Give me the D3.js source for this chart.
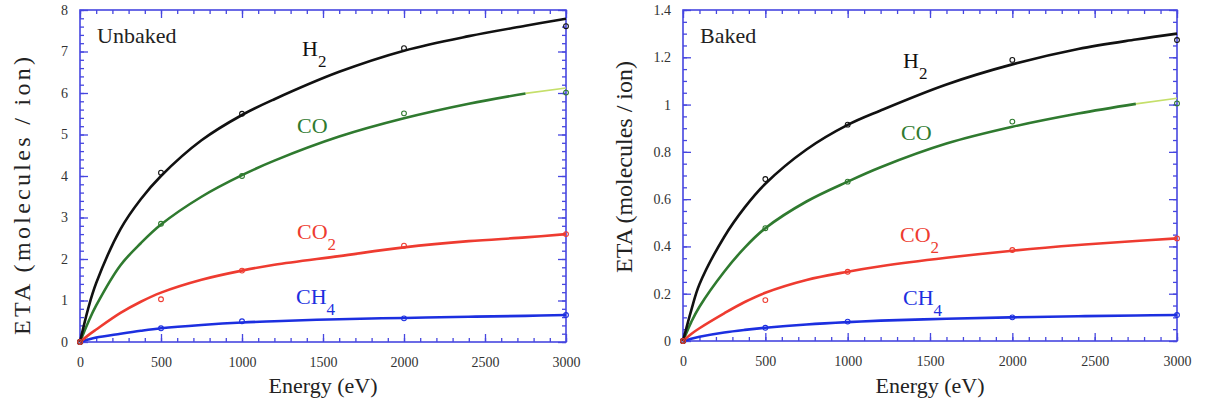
<!DOCTYPE html>
<html>
<head>
<meta charset="utf-8">
<script src="https://cdn.jsdelivr.net/npm/d3@7"></script>
<style>
  body { margin: 0; background: #fff; }
  text { font-family: "Liberation Serif", "Times New Roman", serif; }
</style>
</head>
<body>
<div id="chart"></div>
<script>
var energies = [0, 50, 100, 250, 375, 500, 750, 1000, 1200, 1600, 2000, 2400, 2750, 3000];
// energies of the measured points
var pointEnergies = [0, 500, 1000, 2000, 3000];

var xTicks = [0, 500, 1000, 1500, 2000, 2500, 3000];
var unbakedYTicks = [0, 1, 2, 3, 4, 5, 6, 7, 8];
var bakedYTicks = [0, 0.2, 0.4, 0.6, 0.8, 1, 1.2, 1.4];

// Unbaked - curves
var unbakedH2  = [0, 0.8, 1.42, 2.72, 3.44, 4.0, 4.86, 5.47, 5.85, 6.51, 7.02, 7.37, 7.62, 7.79];
var unbakedCO  = [0, 0.47, 0.88, 1.85, 2.38, 2.83, 3.5, 4.02, 4.37, 4.95, 5.39, 5.74, 5.99, 6.12];
var unbakedCO2 = [0, 0.16, 0.3, 0.7, 0.97, 1.19, 1.5, 1.72, 1.86, 2.07, 2.28, 2.43, 2.52, 2.6];
var unbakedCH4 = [0, 0.06, 0.11, 0.2, 0.27, 0.33, 0.41, 0.47, 0.5, 0.55, 0.58, 0.61, 0.63, 0.65];
// Unbaked - measured points
var unbakedH2Pts  = [0, 4.08, 5.5, 7.08, 7.61];
var unbakedCOPts  = [0, 2.85, 4.0, 5.51, 6.01];
var unbakedCO2Pts = [0, 1.03, 1.72, 2.32, 2.6];
var unbakedCH4Pts = [0, 0.33, 0.5, 0.57, 0.65];

// Baked - curves
var bakedH2  = [0, 0.13, 0.24, 0.44, 0.565, 0.665, 0.81, 0.914, 0.975, 1.085, 1.17, 1.235, 1.275, 1.3];
var bakedCO  = [0, 0.08, 0.145, 0.293, 0.395, 0.477, 0.59, 0.674, 0.735, 0.835, 0.906, 0.962, 1.003, 1.027];
var bakedCO2 = [0, 0.03, 0.054, 0.117, 0.165, 0.204, 0.258, 0.293, 0.316, 0.352, 0.382, 0.406, 0.423, 0.434];
var bakedCH4 = [0, 0.01, 0.018, 0.036, 0.047, 0.056, 0.07, 0.08, 0.086, 0.094, 0.1, 0.105, 0.108, 0.11];
// Baked - measured points
var bakedH2Pts  = [0, 0.685, 0.915, 1.189, 1.273];
var bakedCOPts  = [0, 0.477, 0.674, 0.928, 1.005];
var bakedCO2Pts = [0, 0.173, 0.293, 0.385, 0.434];
var bakedCH4Pts = [0, 0.056, 0.082, 0.1, 0.11];

var axisColour = '#4646e0';
var colours = {H2: '#111111', CO: '#2f7a2f', CO2: '#ee3b30', CH4: '#1c2fe0'};
var extensionColour = '#c5df6a';

var svg = d3.select('#chart').append('svg')
    .attr('width', 1206)
    .attr('height', 407)
    .style('display', 'block');

svg.append('rect').attr('width', 1206).attr('height', 407).attr('fill', '#fff');

function zip(xs, ys) {
  return xs.map(function(e, i) { return {e: e, v: ys[i]}; });
}

function drawPanel(p) {
  var g = svg.append('g');

  var x = d3.scaleLinear().domain([0, 3000]).range([p.left, p.right]),
      y = d3.scaleLinear().domain([0, p.yMax]).range([p.bottom, p.top]);

  function style(sel) {
    sel.attr('font-family', '"Liberation Serif", serif');
    sel.select('.domain').remove();
    sel.selectAll('.tick line').attr('stroke', axisColour).attr('stroke-width', 1.3);
    sel.selectAll('.tick text')
        .attr('fill', '#333')
        .style('font-size', '14px');
  }

  var xMinor = d3.range(0, 3001, 100),
      yMinor = d3.range(0, p.yMax + 1e-9, p.yMinorStep);

  // bottom
  g.append('g').attr('transform', 'translate(0,' + p.bottom + ')')
      .call(d3.axisBottom(x).tickValues(xMinor).tickSize(-4).tickFormat(''))
      .call(style);
  g.append('g').attr('transform', 'translate(0,' + p.bottom + ')')
      .call(d3.axisBottom(x).tickValues(xTicks).tickSize(-8).tickPadding(15).tickFormat(d3.format('d')))
      .call(style);
  // top
  g.append('g').attr('transform', 'translate(0,' + p.top + ')')
      .call(d3.axisTop(x).tickValues(xMinor).tickSize(-4).tickFormat(''))
      .call(style);
  g.append('g').attr('transform', 'translate(0,' + p.top + ')')
      .call(d3.axisTop(x).tickValues(xTicks).tickSize(-8).tickFormat(''))
      .call(style);
  // left
  g.append('g').attr('transform', 'translate(' + p.left + ',0)')
      .call(d3.axisLeft(y).tickValues(yMinor).tickSize(-4).tickFormat(''))
      .call(style);
  g.append('g').attr('transform', 'translate(' + p.left + ',0)')
      .call(d3.axisLeft(y).tickValues(p.yTicks).tickSize(-8).tickPadding(12).tickFormat(d3.format('~g')))
      .call(style);
  // right
  g.append('g').attr('transform', 'translate(' + p.right + ',0)')
      .call(d3.axisRight(y).tickValues(yMinor).tickSize(-4).tickFormat(''))
      .call(style);
  g.append('g').attr('transform', 'translate(' + p.right + ',0)')
      .call(d3.axisRight(y).tickValues(p.yTicks).tickSize(-8).tickFormat(''))
      .call(style);

  // frame
  g.append('rect')
      .attr('x', p.left).attr('y', p.top)
      .attr('width', p.right - p.left).attr('height', p.bottom - p.top)
      .attr('fill', 'none')
      .attr('stroke', axisColour)
      .attr('stroke-width', 1.6);

  var line = d3.line()
      .x(function(d) { return x(d.e); })
      .y(function(d) { return y(d.v); })
      .curve(d3.curveCatmullRom.alpha(0.5));

  var cut = energies.indexOf(2750);

  p.series.forEach(function(s) {
    var pts = zip(energies, s.curve);
    if (s.name === 'CO') {
      g.append('path').datum(pts.slice(cut))
          .attr('d', line).attr('fill', 'none')
          .attr('stroke', extensionColour).attr('stroke-width', 1.6);
      pts = pts.slice(0, cut + 1);
    }
    g.append('path').datum(pts)
        .attr('d', line)
        .attr('fill', 'none')
        .attr('stroke', colours[s.name])
        .attr('stroke-width', 2.6)
        .attr('stroke-linejoin', 'round');
  });

  p.series.forEach(function(s) {
    g.selectAll(null)
        .data(zip(pointEnergies, s.points))
      .enter().append('circle')
        .attr('cx', function(d) { return x(d.e); })
        .attr('cy', function(d) { return y(d.v); })
        .attr('r', 2.4)
        .attr('fill', 'none')
        .attr('stroke', colours[s.name])
        .attr('stroke-width', 1.1);
  });

  // series labels
  p.series.forEach(function(s) {
    var t = g.append('text')
        .attr('x', s.lx).attr('y', s.ly)
        .attr('fill', colours[s.name])
        .style('font-size', '22px');
    var main = s.name.replace(/\d/, ''), sub = s.name.replace(/\D/g, '');
    t.append('tspan').text(main);
    if (sub) t.append('tspan').attr('dy', 11).style('font-size', '17px').text(sub);
  });

  // panel title
  g.append('text')
      .attr('x', p.left + 17).attr('y', p.top + 33)
      .attr('fill', '#222')
      .style('font-size', '22px')
      .text(p.title);

  // axis titles
  g.append('text')
      .attr('x', (p.left + p.right) / 2).attr('y', 393)
      .attr('text-anchor', 'middle')
      .attr('fill', '#222')
      .style('font-size', '22px')
      .text('Energy (eV)');

  var yl = g.append('text')
      .attr('transform', 'translate(' + p.yLabelX + ',' + p.yLabelY + ') rotate(-90)')
      .attr('text-anchor', 'middle')
      .attr('fill', '#222')
      .style('font-size', '24px')
      .text(p.yLabel);
  if (p.yLabelLength) yl.attr('textLength', p.yLabelLength).attr('lengthAdjust', 'spacing');
}

drawPanel({
  title: 'Unbaked',
  left: 80, right: 566, top: 10, bottom: 342,
  yMax: 8, yTicks: unbakedYTicks, yMinorStep: 0.2,
  yLabel: 'ETA (molecules /  ion)', yLabelX: 30, yLabelY: 196, yLabelLength: 278,
  series: [
    {name: 'CH4', curve: unbakedCH4, points: unbakedCH4Pts, lx: 296, ly: 304},
    {name: 'CO',  curve: unbakedCO,  points: unbakedCOPts,  lx: 297, ly: 133},
    {name: 'H2',  curve: unbakedH2,  points: unbakedH2Pts,  lx: 302, ly: 56},
    {name: 'CO2', curve: unbakedCO2, points: unbakedCO2Pts, lx: 297, ly: 239}
  ]
});

drawPanel({
  title: 'Baked',
  left: 683, right: 1177, top: 10, bottom: 341,
  yMax: 1.4, yTicks: bakedYTicks, yMinorStep: 0.05,
  yLabel: 'ETA (molecules / ion)', yLabelX: 632, yLabelY: 167,
  series: [
    {name: 'CH4', curve: bakedCH4, points: bakedCH4Pts, lx: 903, ly: 305},
    {name: 'CO',  curve: bakedCO,  points: bakedCOPts,  lx: 901, ly: 140},
    {name: 'H2',  curve: bakedH2,  points: bakedH2Pts,  lx: 903, ly: 68},
    {name: 'CO2', curve: bakedCO2, points: bakedCO2Pts, lx: 900, ly: 242}
  ]
});
</script>
</body>
</html>
